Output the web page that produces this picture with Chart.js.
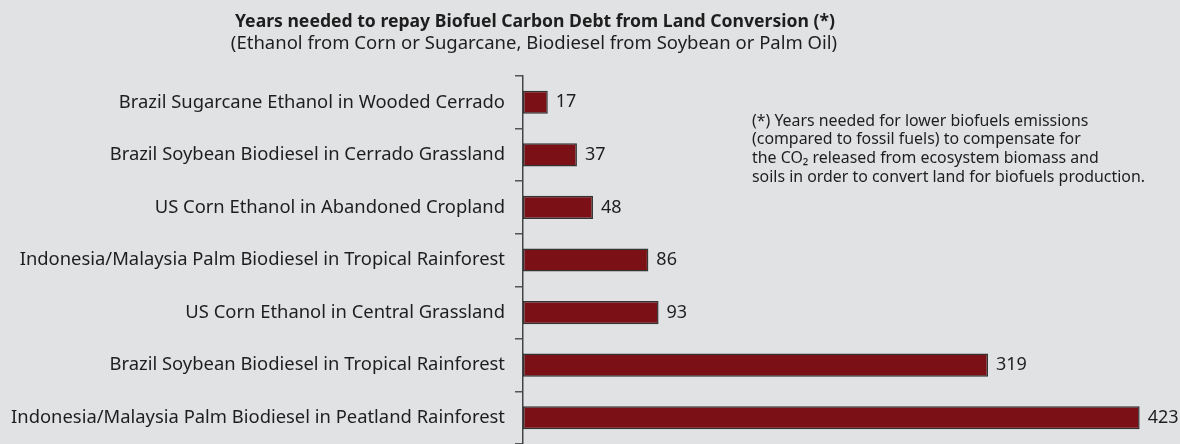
<!DOCTYPE html>
<html>
<head>
<meta charset="utf-8">
<script src="https://cdn.jsdelivr.net/npm/chart.js@4/dist/chart.umd.min.js"></script>
<style>
    html, body { margin: 0; padding: 0; background: #e1e2e4; }
    #wrap { width: 1180px; height: 444px; position: relative; }
</style>
</head>
<body>
<div id="wrap"><canvas id="debtChart" width="1180" height="444"></canvas></div>
<script>
const categories = [
    'Brazil Sugarcane Ethanol in Wooded Cerrado',
    'Brazil Soybean Biodiesel in Cerrado Grassland',
    'US Corn Ethanol in Abandoned Cropland',
    'Indonesia/Malaysia Palm Biodiesel in Tropical Rainforest',
    'US Corn Ethanol in Central Grassland',
    'Brazil Soybean Biodiesel in Tropical Rainforest',
    'Indonesia/Malaysia Palm Biodiesel in Peatland Rainforest'
];
const yearsToRepay = [17, 37, 48, 86, 93, 319, 423];

const titleLines = [
    'Years needed to repay Biofuel Carbon Debt from Land Conversion (*)',
    '(Ethanol from Corn or Sugarcane, Biodiesel from Soybean or Palm Oil)'
];
const noteLines = [
    '(*) Years needed for lower biofuels emissions',
    '(compared to fossil fuels) to compensate for',
    'the CO\u2082 released from ecosystem biomass and',
    'soils in order to convert land for biofuels production.'
];

const labelFont = '"Noto Sans", "Open Sans", sans-serif';

// draws the value next to each bar, plus title and footnote text
const extrasPlugin = {
    id: 'extras',
    afterDatasetsDraw(chart) {
        const ctx = chart.ctx;
        const meta = chart.getDatasetMeta(0);
        ctx.save();
        ctx.fillStyle = '#1e1e1e';
        ctx.font = '18px ' + labelFont;
        ctx.textBaseline = 'middle';
        ctx.textAlign = 'left';
        meta.data.forEach((bar, i) => {
            ctx.fillText(yearsToRepay[i], bar.x + 8, bar.y);
        });

        ctx.textBaseline = 'alphabetic';
        ctx.textAlign = 'center';
        ctx.font = 'bold 17.6px ' + labelFont;
        ctx.fillText(titleLines[0], 535, 27);
        ctx.font = '18.5px ' + labelFont;
        ctx.fillText(titleLines[1], 534, 49);

        ctx.textAlign = 'left';
        ctx.textBaseline = 'middle';
        ctx.font = '15.9px ' + labelFont;
        noteLines.forEach((line, i) => {
            ctx.fillText(line, 752, 121 + i * 18.8);
        });
        ctx.restore();
    }
};

const ctx1 = document.getElementById('debtChart').getContext('2d');
window.myChart1 = new Chart(ctx1, {
    type: 'bar',
    data: {
        labels: categories,
        datasets: [{
            data: yearsToRepay,
            backgroundColor: '#7b1116',
            borderColor: '#333333',
            borderWidth: 1.5,
            borderSkipped: false,
            categoryPercentage: 0.44,
            barPercentage: 1
        }]
    },
    options: {
        indexAxis: 'y',
        responsive: false,
        animation: false,
        layout: { padding: { top: 76, right: 1, bottom: 0, left: 0 } },
        plugins: {
            legend: { display: false },
            tooltip: { enabled: false }
        },
        scales: {
            x: {
                display: false,
                min: 0,
                max: 450
            },
            y: {
                offset: true,
                afterFit: (scale) => {
                    scale.width = 523;
                    scale.paddingTop = 0;
                    scale.paddingBottom = 0;
                },
                border: { display: true, color: '#444', width: 1.5 },
                grid: {
                    offset: true,
                    drawOnChartArea: false,
                    drawTicks: true,
                    tickLength: 8,
                    color: '#555',
                    lineWidth: 1.5
                },
                ticks: {
                    color: '#1e1e1e',
                    padding: 10,
                    font: { family: labelFont, size: 18.4 }
                }
            }
        }
    },
    plugins: [extrasPlugin]
});
</script>
</body>
</html>
